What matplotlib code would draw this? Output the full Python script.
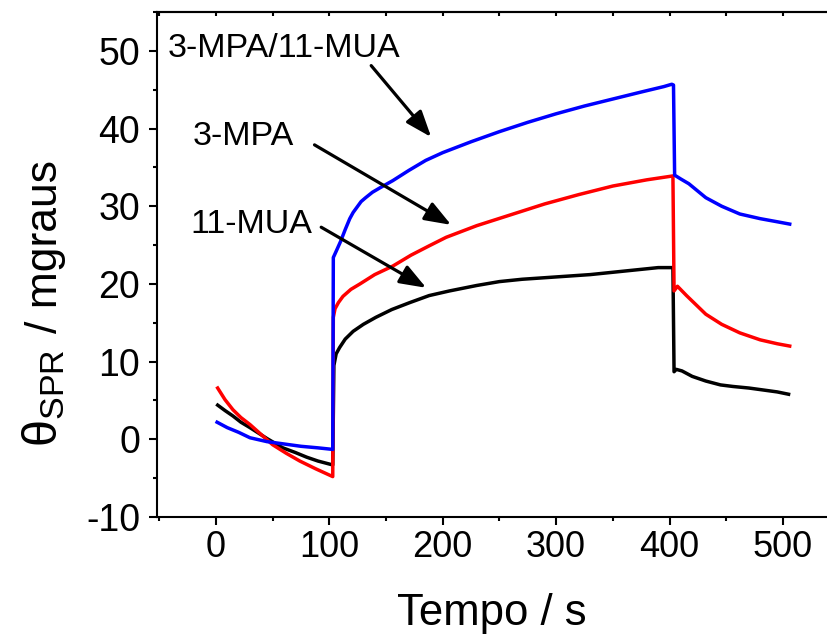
import matplotlib
matplotlib.use('Agg')
import matplotlib.pyplot as plt
from matplotlib.ticker import MultipleLocator

plt.rcParams['font.family'] = ['Liberation Sans', 'DejaVu Sans']
plt.rcParams['mathtext.fontset'] = 'custom'
plt.rcParams['mathtext.rm'] = 'Liberation Sans'
plt.rcParams['mathtext.it'] = 'Liberation Sans:italic'
plt.rcParams['axes.unicode_minus'] = False

# 11-MUA (black)
t_mua = [1.5, 8, 15, 22, 30, 45, 59, 70, 80, 90,
         103, 104, 106, 109, 114, 121, 130, 141, 155, 171,
         188, 206, 230, 250, 270, 290, 310, 330, 350, 370,
         390, 403, 404, 406, 411, 420, 432, 445, 456, 470,
         485, 495, 505]
v_mua = [4.4, 3.7, 3.0, 2.2, 1.5, 0.1, -1.1, -1.7, -2.3, -2.8,
         -3.3, 9.5, 11.0, 11.8, 12.9, 13.9, 14.8, 15.7, 16.7, 17.6,
         18.5, 19.1, 19.8, 20.3, 20.6, 20.8, 21.0, 21.2, 21.5, 21.8,
         22.1, 22.1, 8.7, 9.0, 8.8, 8.1, 7.5, 7.0, 6.8, 6.6,
         6.3, 6.1, 5.8]

# 3-MPA (red)
t_mpa = [1.5, 8, 15, 22, 30, 40, 50, 62, 74, 88,
         103, 103.5, 105, 108, 112, 119, 127, 140, 156, 172,
         188, 203, 230, 260, 290, 320, 350, 380, 403, 404,
         407, 415, 432, 446, 462, 480, 495, 506]
v_mpa = [6.6, 5.1, 3.8, 2.8, 1.9, 0.6, -0.7, -1.8, -2.8, -3.8,
         -4.8, 15.7, 16.8, 17.6, 18.4, 19.3, 20.0, 21.2, 22.3, 23.7,
         24.9, 26.0, 27.5, 28.9, 30.3, 31.5, 32.6, 33.4, 33.9, 19.1,
         19.7, 18.5, 16.1, 14.8, 13.7, 12.8, 12.3, 12.0]

# 3-MPA/11-MUA (blue)
t_mix = [1, 10, 20, 30, 45, 60, 75, 90, 103, 103.5,
         106, 110, 114, 118, 121, 125, 128, 132, 138, 145,
         156, 170, 185, 200, 225, 250, 275, 300, 325, 350,
         375, 395, 402, 403.5, 404.5, 410, 417, 432, 446, 462,
         480, 495, 506]
v_mix = [2.2, 1.5, 0.9, 0.2, -0.3, -0.6, -0.9, -1.1, -1.3, 23.4,
         24.2, 25.5, 27.0, 28.4, 29.2, 30.0, 30.6, 31.1, 31.8, 32.4,
         33.3, 34.6, 35.9, 36.9, 38.3, 39.6, 40.8, 41.9, 42.9, 43.8,
         44.7, 45.4, 45.7, 45.6, 34.0, 33.5, 32.9, 31.1, 30.0, 29.0,
         28.4, 28.0, 27.7]

# labels: (text, text pos, arrow start, arrow tip)
labels = [
    ('3-MPA/11-MUA', (-42.8, 49.2), (136.9, 48.1), (189.8, 38.9)),
    ('3-MPA', (-20.7, 37.9), (86.9, 37.9), (207.4, 27.6)),
    ('11-MUA', (-22.8, 26.5), (92.8, 27.3), (185.4, 19.5)),
]

W, H = 827, 634
fig = plt.figure(figsize=(W / 100, H / 100), dpi=100)
ax = fig.add_axes([157 / W, 1 - 517 / H, (826 - 157) / W, (517 - 12) / H])

ax.plot(t_mua, v_mua, color='black', lw=2.5)
ax.plot(t_mpa, v_mpa, color='red', lw=2.5)
ax.plot(t_mix, v_mix, color='blue', lw=2.5)

for txt, pos, start, tip in labels:
    ax.text(pos[0], pos[1], txt, fontsize=24.5, ha='left', va='baseline')
    ax.annotate('', xy=tip, xytext=start,
                arrowprops=dict(arrowstyle='-|>,head_length=0.8,head_width=0.3',
                                color='black', lw=2.3, mutation_scale=20,
                                shrinkA=0, shrinkB=0))

ax.set_xlim(-52, 538)
ax.set_ylim(-10, 55)
ax.xaxis.set_major_locator(MultipleLocator(100))
ax.xaxis.set_minor_locator(MultipleLocator(50))
ax.yaxis.set_major_locator(MultipleLocator(10))
ax.yaxis.set_minor_locator(MultipleLocator(5))

ax.spines['right'].set_visible(False)
for s in ['left', 'bottom', 'top']:
    ax.spines[s].set_linewidth(1.5)
ax.tick_params(which='major', direction='out', length=6, width=1.5, labelsize=26)
ax.tick_params(which='minor', direction='out', length=3, width=1.5)
ax.tick_params(axis='y', which='major', labelsize=27, pad=6)

top = ax.secondary_xaxis('top')
top.xaxis.set_major_locator(MultipleLocator(100))
top.xaxis.set_minor_locator(MultipleLocator(50))
top.tick_params(which='both', direction='in', length=3, width=1.5, labeltop=False)
top.spines['top'].set_linewidth(1.5)

ax.set_xlabel('Tempo / s', fontsize=31.5, labelpad=20)

# y label in two pieces: the symbol is drawn a bit larger than the unit
fig.text(57 / W, 1 - 447 / H, 'θ$_{\\mathrm{SPR}}$', fontsize=35, rotation=90,
         rotation_mode='anchor', ha='left', va='baseline')
fig.text(57 / W, 1 - 333 / H, '/ mgraus', fontsize=32, rotation=90,
         rotation_mode='anchor', ha='left', va='baseline')

fig.savefig('out.png', dpi=100)
